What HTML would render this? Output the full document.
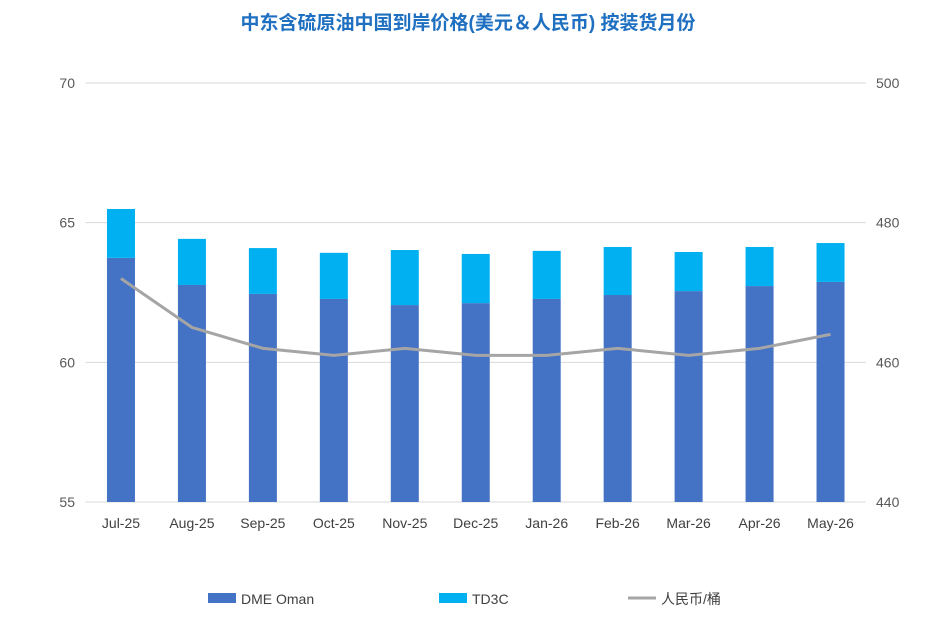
<!DOCTYPE html>
<html><head><meta charset="utf-8"><style>
body{margin:0;background:#fff;font-family:"Liberation Sans","Noto Sans CJK SC",sans-serif;}
svg text{font-family:"Liberation Sans","Noto Sans CJK SC",sans-serif;}
</style></head><body>
<svg id="c" width="937" height="634" xmlns="http://www.w3.org/2000/svg">
<text x="468" y="29" text-anchor="middle" font-size="19" font-weight="bold" fill="#1f70c1">中东含硫原油中国到岸价格(美元＆人民币) 按装货月份</text>
<g id="grid"></g><g id="bars"></g><g id="line"></g><g id="axes"></g>
<g>
<rect x="208" y="593" width="28" height="10" fill="#4472c4"/>
<text x="241" y="604" font-size="14" fill="#404040">DME Oman</text>
<rect x="439" y="593" width="28" height="10" fill="#00b0f0"/>
<text x="472" y="604" font-size="14" fill="#404040">TD3C</text>
<line x1="628" y1="598" x2="656" y2="598" stroke="#a5a5a5" stroke-width="3"/>
<text x="661" y="604" font-size="14" fill="#404040">人民币/桶</text>
</g>
</svg>
<script>
const categories=["Jul-25","Aug-25","Sep-25","Oct-25","Nov-25","Dec-25","Jan-26","Feb-26","Mar-26","Apr-26","May-26"];
const dmeOman=[63.74,62.77,62.45,62.27,62.05,62.12,62.27,62.41,62.55,62.73,62.88];
const td3c=[1.75,1.65,1.64,1.65,1.97,1.76,1.72,1.72,1.40,1.40,1.39];
const rmb=[472,465,462,461,462,461,461,462,461,462,464];
const leftTicks=[55,60,65,70];
const rightTicks=[440,460,480,500];
const NS="http://www.w3.org/2000/svg";
const x0=85.5,x1=866,yB=502,yT=83;
const step=(x1-x0)/categories.length;
const xc=i=>x0+step*(i+0.5);
const yL=v=>yB-(v-55)/(70-55)*(yB-yT);
const yR=v=>yB-(v-440)/(500-440)*(yB-yT);
function mk(tag,attrs,parent,txt){const e=document.createElementNS(NS,tag);for(const k in attrs)e.setAttribute(k,attrs[k]);if(txt!==undefined)e.textContent=txt;document.getElementById(parent).appendChild(e);return e;}
leftTicks.forEach(t=>{
 const g=mk("line",{x1:x0,x2:x1,y1:yL(t),y2:yL(t),stroke:"#d9d9d9","stroke-width":1},"grid");
 
 
 const l=mk("text",{x:75,y:yL(t)+5,"text-anchor":"end","font-size":14,fill:"#595959"},"axes",t);
 
 
});
rightTicks.forEach(t=>{
 const l=mk("text",{x:876,y:yR(t)+5,"text-anchor":"start","font-size":14,fill:"#595959"},"axes",t);
 
 
});
const bw=28;
categories.forEach((c,i)=>{
 const b=mk("rect",{x:xc(i)-bw/2,y:yL(dmeOman[i]),width:bw,height:yB-yL(dmeOman[i]),fill:"#4472c4"},"bars");
 
 
 const top=dmeOman[i]+td3c[i];
 const b2=mk("rect",{x:xc(i)-bw/2,y:yL(top),width:bw,height:yL(dmeOman[i])-yL(top),fill:"#00b0f0"},"bars");
 
 
 const l=mk("text",{x:xc(i),y:528,"text-anchor":"middle","font-size":14,fill:"#404040"},"axes",c);
 
 
});
const p=mk("polyline",{points:rmb.map((v,i)=>xc(i)+","+yR(v)).join(" "),fill:"none",stroke:"#a5a5a5","stroke-width":3,"stroke-linejoin":"round"},"line");


</script>
</body></html>
